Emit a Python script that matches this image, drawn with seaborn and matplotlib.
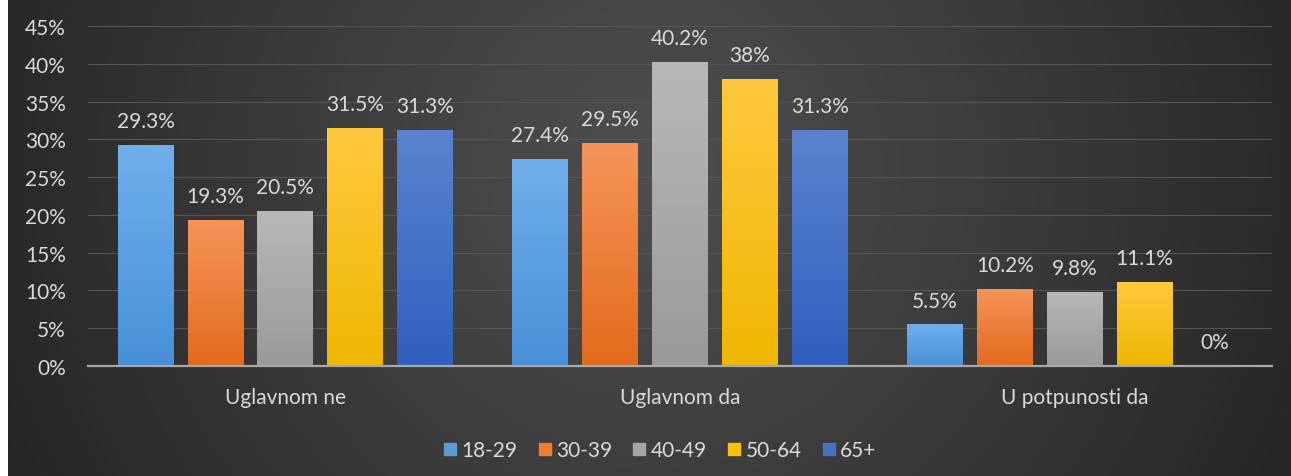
import numpy as np
import pandas as pd
import seaborn as sns
import matplotlib.pyplot as plt
from matplotlib.colors import to_rgb
from matplotlib.lines import Line2D

# Survey answers by age group (percent)
categories = ["Uglavnom ne", "Uglavnom da", "U potpunosti da"]
age_groups = ["18-29", "30-39", "40-49", "50-64", "65+"]
vals_18_29 = [29.3, 27.4, 5.5]
vals_30_39 = [19.3, 29.5, 10.2]
vals_40_49 = [20.5, 40.2, 9.8]
vals_50_64 = [31.5, 38.0, 11.1]
vals_65 = [31.3, 31.3, 0.0]
y_ticks = [0, 5, 10, 15, 20, 25, 30, 35, 40, 45]

series = [vals_18_29, vals_30_39, vals_40_49, vals_50_64, vals_65]
df = pd.DataFrame(
    [(c, g, v[i]) for g, v in zip(age_groups, series) for i, c in enumerate(categories)],
    columns=["odgovor", "starost", "procenat"],
)

base_colors = ["#5B9BD5", "#ED7D31", "#A5A5A5", "#FFC000", "#4472C4"]
top_colors = ["#6FB0EA", "#F5945A", "#B8B8B8", "#FFC93F", "#5B84CF"]
bottom_colors = ["#4890D8", "#E36B1C", "#9A9A9A", "#EFB700", "#2F5FBF"]
text_color = "#D9D9D9"

sns.set_theme(style="dark")
plt.rcParams["font.family"] = ["Lato", "DejaVu Sans"]

W, H = 1291, 477
fig = plt.figure(figsize=(W / 100, H / 100), dpi=100, facecolor="white")

# dark radial background panel
bg = fig.add_axes([8 / W, 0, 1 - 8 / W, 1], zorder=-10)
nx, ny = W - 8, H
xx, yy = np.meshgrid(np.arange(nx), np.arange(ny))
cx, cy = nx * 0.5, ny * 0.35
r = np.sqrt(((xx - cx) / nx) ** 2 + ((yy - cy) / nx) ** 2)
r = np.clip(r / r.max(), 0, 1) ** 1.1
c0 = np.array(to_rgb("#4E4E4E"))
c1 = np.array(to_rgb("#252525"))
img = c0[None, None, :] * (1 - r[..., None]) + c1[None, None, :] * r[..., None]
bg.imshow(img, extent=[0, 1, 0, 1], aspect="auto", origin="upper")
bg.axis("off")

ax = fig.add_axes([88 / W, 110 / H, (1272 - 88) / W, 340 / H])
ax.set_facecolor("none")

sns.barplot(
    data=df, x="odgovor", y="procenat", hue="starost",
    order=categories, hue_order=age_groups,
    palette=base_colors, saturation=1, width=0.885, gap=0.2,
    legend=False, ax=ax, zorder=3, linewidth=0, edgecolor="none",
)

ax.set_ylim(0, 45)
ax.set_xlim(-0.5, len(categories) - 0.5)

# vertical gradient on each bar
for i, cont in enumerate(ax.containers):
    grad = np.linspace(0, 1, 256)[:, None, None]
    ct = np.array(to_rgb(top_colors[i]))
    cb = np.array(to_rgb(bottom_colors[i]))
    gimg = ct * (1 - grad) + cb * grad
    for patch in cont:
        x0, w, h = patch.get_x(), patch.get_width(), patch.get_height()
        if h <= 0:
            continue
        im = ax.imshow(gimg, extent=[x0, x0 + w, 0, h], aspect="auto",
                       origin="upper", zorder=3.5)
        im.set_clip_path(patch)
    ax.bar_label(cont, fmt=lambda v: f"{v:g}%", padding=10,
                 color=text_color, fontsize=15)

ax.set_ylim(0, 45)
ax.set_xlim(-0.5, len(categories) - 0.5)
ax.set_aspect("auto")

ax.set_yticks(y_ticks)
ax.set_yticklabels([f"{t}%" for t in y_ticks])
ax.grid(axis="y", color="#555555", linewidth=0.8, zorder=0)
ax.grid(axis="x", visible=False)
ax.tick_params(axis="y", length=0, pad=16, labelsize=15, labelcolor=text_color)
ax.tick_params(axis="x", length=0, pad=15, labelsize=15, labelcolor=text_color)
ax.set_xlabel("")
ax.set_ylabel("")
for side in ["left", "right", "top"]:
    ax.spines[side].set_visible(False)
ax.spines["bottom"].set_color("#A8A8A8")
ax.spines["bottom"].set_linewidth(1.6)
ax.spines["bottom"].set_zorder(5)

handles = [Line2D([], [], marker="s", linestyle="none", markersize=9,
                  markerfacecolor=c, markeredgecolor=c) for c in base_colors]
fig.legend(handles, age_groups, loc="center", bbox_to_anchor=(660 / W, 1 - 451 / H),
           ncol=5, frameon=False, fontsize=15, labelcolor=text_color,
           handlelength=0.6, handletextpad=0.25, columnspacing=1.0,
           borderpad=0)

fig.savefig("out.png", dpi=100, facecolor=fig.get_facecolor())
